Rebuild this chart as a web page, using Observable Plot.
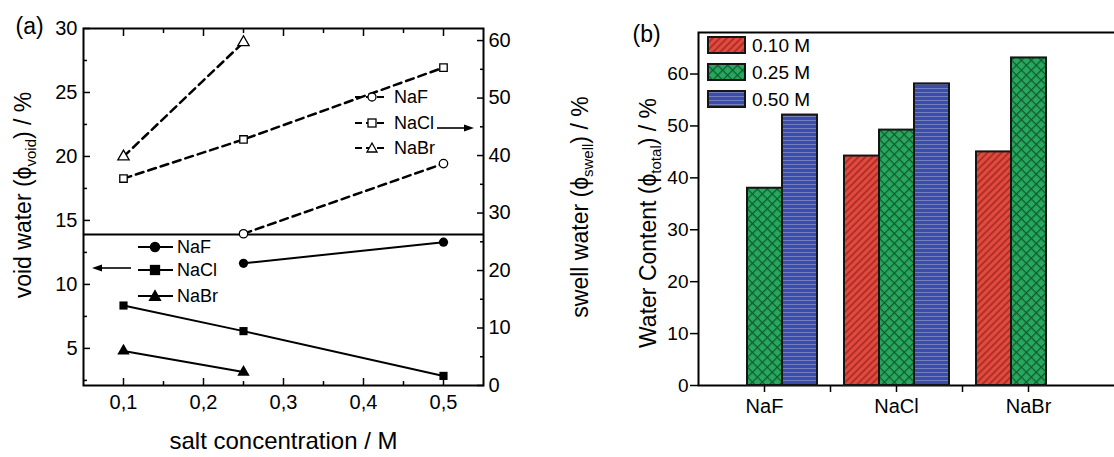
<!DOCTYPE html>
<html><head><meta charset="utf-8">
<script src="https://cdn.jsdelivr.net/npm/d3@7"></script>
<script src="https://cdn.jsdelivr.net/npm/@observablehq/plot@0.6"></script>
<style>
body{margin:0;background:#fff;}
#wrap{position:relative;width:1114px;height:457px;overflow:hidden;background:#fff;}
#wrap svg{position:absolute;top:0;}
</style></head><body><div id="wrap"></div>
<script>
// ---------- data ----------
const conc = [0.1, 0.25, 0.5];
const salts = ["NaF", "NaCl", "NaBr"];
// void water (left axis, %), null = no point
const voidNaF  = [null, 11.65, 13.3];
const voidNaCl = [8.35, 6.35, 2.85];
const voidNaBr = [4.8, 3.15, null];
// swell water (right axis, %)
const swellNaF  = [null, 26.4, 38.6];
const swellNaCl = [36.0, 42.8, 55.3];
const swellNaBr = [39.8, 59.7, null];
const dividerVoid = 13.9;
// panel (b) total water content
const barSeries = ["0.10 M", "0.25 M", "0.50 M"];
const total010 = [null, 44.2, 45.0];
const total025 = [38.0, 49.2, 63.1];
const total050 = [52.1, 58.1, null];
// ticks
const xTicksA = [0.1, 0.2, 0.3, 0.4, 0.5];
const xMinorA = [0.15, 0.25, 0.35, 0.45];
const yTicksVoid = [5, 10, 15, 20, 25, 30];
const yMinorVoid = [2.5, 7.5, 12.5, 17.5, 22.5, 27.5];
const yTicksSwell = [0, 10, 20, 30, 40, 50, 60];
const yMinorSwell = [5, 15, 25, 35, 45, 55];
const yTicksTotal = [0, 10, 20, 30, 40, 50, 60];
// labels
const xLabelA = "salt concentration / M";
const yLabelVoid = "void water (ϕvoid) / %";
const yLabelSwell = "swell water (ϕswell) / %";
const yLabelTotal = "Water Content (ϕtotal) / %";

// ---------- tables ----------
const FONT = '"Liberation Sans", Arial, Helvetica, "DejaVu Sans", sans-serif';
function rows(arrs) {
  const out = [];
  salts.forEach((s, i) => conc.forEach((c, j) => { const v = arrs[i][j]; if (v != null) out.push({salt: s, conc: c, v}); }));
  return out;
}
const voidRows = rows([voidNaF, voidNaCl, voidNaBr]);
const swellRows = rows([swellNaF, swellNaCl, swellNaBr]);
const barRows = [];
[total010, total025, total050].forEach((arr, i) => salts.forEach((s, j) => { if (arr[j] != null) barRows.push({salt: s, series: barSeries[i], v: arr[j]}); }));
const patterns = ["url(#pRed)", "url(#pGreen)", "url(#pBlue)"];
const style = {fontFamily: FONT, fontSize: "20px", color: "#000", background: "transparent", overflow: "visible"};
const symbolScale = {domain: salts, range: ["circle", "square", "triangle"]};
const commaFmt = d => d3.format(".1f")(d).replace(".", ",");
const wrap = document.getElementById("wrap");
function place(svg, left) { svg.style.left = left + "px"; wrap.appendChild(svg); return svg; }

// ---------- panel (a), left axis: void water ----------
const A1 = Plot.plot({
  width: 600, height: 457, marginLeft: 83, marginRight: 117, marginTop: 28, marginBottom: 72, style,
  x: {domain: [0.05, 0.55]}, y: {domain: [2.1, 30]}, symbol: symbolScale,
  marks: [
    Plot.axisX(xTicksA, {anchor: "bottom", tickSize: -7, tickPadding: 16, strokeWidth: 1.5, tickFormat: commaFmt, label: null}),
    Plot.axisX(xMinorA, {anchor: "bottom", tickSize: -4, strokeWidth: 1.5, fill: "none", label: null}),
    Plot.axisX(xTicksA, {anchor: "top", tickSize: -7, strokeWidth: 1.5, fill: "none", label: null}),
    Plot.axisX(xMinorA, {anchor: "top", tickSize: -4, strokeWidth: 1.5, fill: "none", label: null}),
    Plot.axisY(yTicksVoid, {anchor: "left", tickSize: -7, tickPadding: 13, strokeWidth: 1.5, label: null}),
    Plot.axisY(yMinorVoid, {anchor: "left", tickSize: -4, strokeWidth: 1.5, fill: "none", label: null}),
    Plot.frame({stroke: "#000", strokeWidth: 2}),
    Plot.ruleY([dividerVoid], {stroke: "#000", strokeWidth: 2}),
    Plot.line(voidRows, {x: "conc", y: "v", z: "salt", stroke: "#000", strokeWidth: 2}),
    Plot.dot(voidRows, {x: "conc", y: "v", symbol: "salt", fill: "#000", r: 4.6}),
    Plot.text([xLabelA], {text: d => d, frameAnchor: "bottom", dy: 63, fontSize: 24}),
    Plot.text([yLabelVoid], {text: d => d, frameAnchor: "left", textAnchor: "middle", dx: -60, dy: -12, rotate: -90, fontSize: 23}),
    Plot.text(["(a)"], {text: d => d, frameAnchor: "top-left", dx: -68, dy: 5, textAnchor: "start", lineAnchor: "bottom", fontSize: 23})
  ]
});
place(A1, 0);

// ---------- panel (a), right axis: swell water ----------
const A2 = Plot.plot({
  width: 600, height: 457, marginLeft: 83, marginRight: 117, marginTop: 28, marginBottom: 72, style,
  x: {domain: [0.05, 0.55], axis: null}, y: {domain: [0, 62.1]}, symbol: symbolScale,
  marks: [
    Plot.axisY(yTicksSwell, {anchor: "right", tickSize: -7, tickPadding: 12, strokeWidth: 1.5, label: null}),
    Plot.axisY(yMinorSwell, {anchor: "right", tickSize: -4, strokeWidth: 1.5, fill: "none", label: null}),
    Plot.line(swellRows, {x: "conc", y: "v", z: "salt", stroke: "#000", strokeWidth: 2.5, strokeDasharray: "8,5"}),
    Plot.dot(swellRows, {x: "conc", y: "v", symbol: "salt", fill: "#fff", stroke: "#000", strokeWidth: 1.3, r: 4.2}),
    Plot.text([yLabelSwell], {text: d => d, frameAnchor: "right", textAnchor: "middle", dx: 97, dy: 0, rotate: -90, fontSize: 23})
  ]
});
place(A2, 0);

// ---------- panel (b), axes ----------
const B1 = Plot.plot({
  width: 600, height: 457, marginLeft: 138, marginRight: 0, marginTop: 32, marginBottom: 72, style,
  x: {type: "band", domain: salts, range: [138, 534], padding: 0}, y: {domain: [0, 68]},
  marks: [
    Plot.axisY(yTicksTotal, {anchor: "left", tickSize: 8, tickPadding: 2, strokeWidth: 1.5, fontSize: 19, label: null}),
    Plot.axisX(salts, {anchor: "bottom", tickSize: 7, tickPadding: 6, strokeWidth: 1.5, fontSize: 20, label: null}),
    Plot.axisX(salts.slice(0, 2), {anchor: "bottom", tickSize: 7, dx: 66, strokeWidth: 1.5, fill: "none", label: null}),
    Plot.frame({stroke: "#000", strokeWidth: 2}),
    Plot.text([yLabelTotal], {text: d => d, frameAnchor: "left", textAnchor: "middle", dx: -50, dy: 14, rotate: -90, fontSize: 23}),
    Plot.text(["(b)"], {text: d => d, frameAnchor: "top-left", dx: -66, dy: 9, textAnchor: "start", lineAnchor: "bottom", fontSize: 23})
  ]
});
place(B1, 560);

// ---------- panel (b), bars ----------
const B2 = Plot.plot({
  width: 396, height: 457, marginLeft: 0, marginRight: 0, marginTop: 32, marginBottom: 72,
  style: {background: "transparent", overflow: "visible"},
  fx: {domain: salts, padding: 0, axis: null},
  x: {domain: barSeries, paddingInner: 0, paddingOuter: 0.34, axis: null},
  y: {domain: [0, 68], axis: null},
  marks: barSeries.map((s, i) => Plot.barY(barRows.filter(d => d.series === s),
    {fx: "salt", x: "series", y: "v", fill: patterns[i], stroke: "#151515", strokeWidth: 2}))
});
place(B2, 698);

// ---------- subscripts in axis titles ----------
const subs = [[yLabelVoid, "void"], [yLabelSwell, "swell"], [yLabelTotal, "total"]];
const NS = "http://www.w3.org/2000/svg";
wrap.querySelectorAll("text").forEach(t => {
  subs.forEach(([full, sub]) => {
    if (t.textContent === full) {
      const i = full.indexOf("ϕ") + 1;
      const a = full.slice(0, i), b = full.slice(i + sub.length);
      t.textContent = "";
      const s0 = document.createElementNS(NS, "tspan"); s0.textContent = a;
      const s1 = document.createElementNS(NS, "tspan"); s1.textContent = sub; s1.setAttribute("dy", "5"); s1.setAttribute("font-size", "15");
      const s2 = document.createElementNS(NS, "tspan"); s2.textContent = b; s2.setAttribute("dy", "-5");
      t.append(s0, s1, s2);
    }
  });
});

// ---------- legends, arrows, patterns ----------
const ov = document.createElementNS(NS, "svg");
ov.setAttribute("width", 1114); ov.setAttribute("height", 457);
ov.style.left = "0px"; ov.style.fontFamily = FONT;
const swellLeg = salts.map((s, i) => ({s, y: [97, 123, 148][i]}));
const voidLeg = salts.map((s, i) => ({s, y: [247, 270, 296][i]}));
function marker(shape, x, y, filled) {
  const f = filled ? "#000" : "#fff";
  if (shape === 0) return `<circle cx="${x}" cy="${y}" r="${filled ? 4.6 : 4}" fill="${f}" stroke="#000" stroke-width="1.3"/>`;
  if (shape === 1) { const h = filled ? 4.5 : 4; return `<rect x="${x - h}" y="${y - h}" width="${2 * h}" height="${2 * h}" fill="${f}" stroke="#000" stroke-width="1.3"/>`; }
  const h = filled ? 5.5 : 5; return `<path d="M${x},${y - h}L${x + h},${y + h * 0.8}L${x - h},${y + h * 0.8}Z" fill="${f}" stroke="#000" stroke-width="1.3"/>`;
}
let html = `<defs>
<pattern id="pRed" patternUnits="userSpaceOnUse" width="5" height="5" patternTransform="rotate(45)">
<rect width="5" height="5" fill="#e24a40"/><line x1="1" y1="0" x2="1" y2="5" stroke="#a3291f" stroke-width="1.6"/></pattern>
<pattern id="pGreen" patternUnits="userSpaceOnUse" width="7" height="7" patternTransform="rotate(45)">
<rect width="7" height="7" fill="#27a85d"/><path d="M0.5,0V7M0,0.5H7" stroke="#0f5a31" stroke-width="1.5"/></pattern>
<pattern id="pBlue" patternUnits="userSpaceOnUse" width="8" height="4">
<rect width="8" height="4" fill="#3a4dad"/><line x1="0" y1="0.5" x2="8" y2="0.5" stroke="#7480bd" stroke-width="1"/></pattern>
</defs>`;
swellLeg.forEach((d, i) => {
  html += `<line x1="355" x2="388" y1="${d.y}" y2="${d.y}" stroke="#000" stroke-width="2.2" stroke-dasharray="7,4"/>` + marker(i, 372, d.y, false) +
    `<text x="394" y="${d.y}" dy="0.35em" font-size="18">${d.s}</text>`;
});
voidLeg.forEach((d, i) => {
  html += `<line x1="138" x2="173" y1="${d.y}" y2="${d.y}" stroke="#000" stroke-width="2"/>` + marker(i, 155, d.y, true) +
    `<text x="177" y="${d.y}" dy="0.35em" font-size="18">${d.s}</text>`;
});
html += `<line x1="437" x2="466" y1="128" y2="128" stroke="#000" stroke-width="1.6"/><path d="M474,128L464,124.5L464,131.5Z" fill="#000"/>`;
html += `<line x1="100" x2="131" y1="268" y2="268" stroke="#000" stroke-width="1.6"/><path d="M92,268L102,264.5L102,271.5Z" fill="#000"/>`;
barSeries.forEach((s, i) => {
  const y = [45, 72, 99][i];
  html += `<rect x="708" y="${y - 8}" width="37" height="16" fill="${patterns[i]}" stroke="#151515" stroke-width="2"/>` +
    `<text x="752" y="${y}" dy="0.35em" font-size="19">${s}</text>`;
});
ov.innerHTML = html;
wrap.appendChild(ov);
</script></body></html>
